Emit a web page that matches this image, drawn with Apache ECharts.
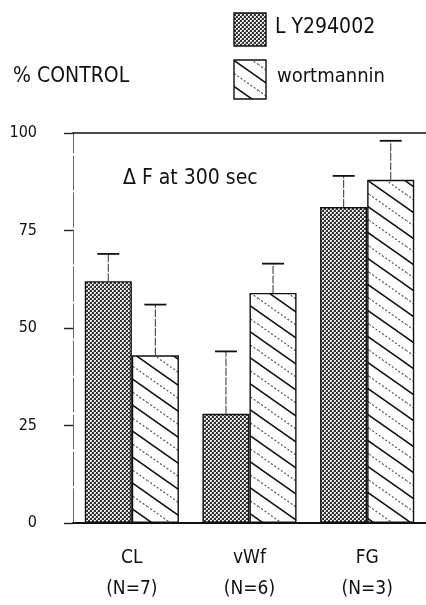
<!DOCTYPE html>
<html>
<head>
<meta charset="utf-8">
<script src="https://cdn.jsdelivr.net/npm/echarts@6/dist/echarts.min.js"></script>
<style>
  html, body { margin: 0; padding: 0; background: #fff; }
  #chart { width: 426px; height: 605px; }
</style>
</head>
<body>
<div id="chart"></div>
<script>
// Groups and their sample sizes
const categories = ['CL', 'vWf', 'FG'];
const sampleSizes = [7, 6, 3];
// Mean response, % of control, and SEM for each inhibitor
const ly294002 = [62, 28, 81];
const ly294002Sem = [7, 16, 8];
const wortmannin = [43, 59, 88];
const wortmanninSem = [13, 7.5, 10];
const yTicks = [0, 25, 50, 75, 100];

const FONT = '"DejaVu Sans Condensed", "Liberation Sans Narrow", sans-serif';

// Fine dark stipple used for LY294002
function stipplePattern() {
  const c = document.createElement('canvas');
  c.width = 4; c.height = 4;
  const g = c.getContext('2d');
  g.fillStyle = '#f2f2f2';
  g.fillRect(0, 0, 4, 4);
  g.fillStyle = '#333';
  g.fillRect(0, 0, 2, 2);
  g.fillRect(2, 2, 2, 2);
  g.fillStyle = '#9a9a9a';
  g.fillRect(1, 3, 1, 1);
  g.fillRect(3, 1, 1, 1);
  return c;
}

// Diagonal hatch (top-left to bottom-right), alternating solid and dotted lines
function hatchPattern() {
  const W = 37, H = 26;
  const c = document.createElement('canvas');
  c.width = W; c.height = H;
  const g = c.getContext('2d');
  g.fillStyle = '#fff';
  g.fillRect(0, 0, W, H);
  g.strokeStyle = '#111';
  g.lineWidth = 1.5;
  g.beginPath();
  g.moveTo(-W, -H); g.lineTo(2 * W, 2 * H);
  g.moveTo(-W, 0); g.lineTo(W, 2 * H);
  g.moveTo(0, -H); g.lineTo(2 * W, H);
  g.stroke();
  g.setLineDash([2, 2]);
  g.lineWidth = 1.2;
  g.strokeStyle = '#555';
  g.beginPath();
  g.moveTo(-W, -H / 2); g.lineTo(2 * W, 2.5 * H);
  g.moveTo(-W, -1.5 * H); g.lineTo(2 * W, 1.5 * H);
  g.stroke();
  return c;
}

const stipple = { image: stipplePattern(), repeat: 'repeat' };
const hatch = { image: hatchPattern(), repeat: 'repeat' };

// Error bars drawn on top of the grouped bars
function errorSeries(means, sems, side) {
  return {
    type: 'custom',
    z: 5,
    data: means.map((m, i) => [i, m, m + sems[i]]),
    renderItem: function (params, api) {
      const band = api.size([1, 0])[0];
      const dx = side * band * 0.2;
      const base = api.coord([api.value(0), api.value(1)]);
      const top = api.coord([api.value(0), api.value(2)]);
      const x = base[0] + dx;
      return {
        type: 'group',
        children: [
          { type: 'line', shape: { x1: x, y1: base[1], x2: x, y2: top[1] },
            style: { stroke: '#444', lineWidth: 1.1, lineDash: [8, 1.5] } },
          { type: 'line', shape: { x1: x - 11, y1: top[1], x2: x + 11, y2: top[1] },
            style: { stroke: '#111', lineWidth: 1.8 } }
        ]
      };
    }
  };
}

const chart = echarts.init(document.getElementById('chart'));
chart.setOption({
  animation: false,
  backgroundColor: '#fff',
  grid: { left: 73, top: 133, width: 354, height: 396 },
  xAxis: [{
    type: 'category',
    data: categories,
    axisLine: { lineStyle: { color: '#111', width: 2 } },
    axisTick: { alignWithLabel: true, length: 15, lineStyle: { color: '#444', width: 1, type: [2, 2] } },
    axisLabel: {
      margin: 20,
      color: '#111',
      fontFamily: FONT,
      fontSize: 19,
      lineHeight: 31,
      formatter: (v, i) => v + '\n(N=' + sampleSizes[i] + ')'
    }
  }, {
    type: 'category',
    position: 'top',
    data: categories,
    axisLine: { lineStyle: { color: '#111', width: 1.6 } },
    axisTick: { show: false },
    axisLabel: { show: false }
  }],
  yAxis: {
    type: 'value',
    min: 0,
    max: 100,
    interval: 25,
    splitLine: { show: false },
    axisLine: { show: true, lineStyle: { color: '#666', width: 1, type: [34, 3] } },
    axisTick: { show: true, inside: false, length: 9, lineStyle: { color: '#222', width: 1.4 } },
    axisLabel: {
      margin: 36,
      color: '#111',
      fontFamily: FONT,
      fontSize: 16,
      customValues: yTicks
    }
  },
  series: [
    {
      name: 'L Y294002',
      type: 'bar',
      data: ly294002,
      barWidth: '40%',
      barGap: '0%',
      itemStyle: { color: stipple, borderColor: '#111', borderWidth: 1.4 }
    },
    {
      name: 'wortmannin',
      type: 'bar',
      data: wortmannin,
      barWidth: '40%',
      barGap: '0%',
      itemStyle: { color: hatch, borderColor: '#111', borderWidth: 1.4 }
    },
    errorSeries(ly294002, ly294002Sem, -1),
    errorSeries(wortmannin, wortmanninSem, 1)
  ],
  graphic: [
    { type: 'text', left: 13, top: 66,
      style: { text: '% CONTROL', fill: '#111', font: '21px ' + FONT } },
    { type: 'text', left: 123, top: 168,
      style: { text: 'Δ F at 300 sec', fill: '#111', font: '21px ' + FONT } },
    { type: 'rect', shape: { x: 234, y: 13, width: 32, height: 33 },
      style: { fill: stipple, stroke: '#111', lineWidth: 1.4 } },
    { type: 'text', left: 275, top: 17,
      style: { text: 'L Y294002', fill: '#111', font: '21px ' + FONT } },
    { type: 'rect', shape: { x: 234, y: 60, width: 32, height: 39 },
      style: { fill: hatch, stroke: '#111', lineWidth: 1.4 } },
    { type: 'text', left: 277, top: 67,
      style: { text: 'wortmannin', fill: '#111', font: '20px ' + FONT } }
  ]
});
</script>
</body>
</html>
